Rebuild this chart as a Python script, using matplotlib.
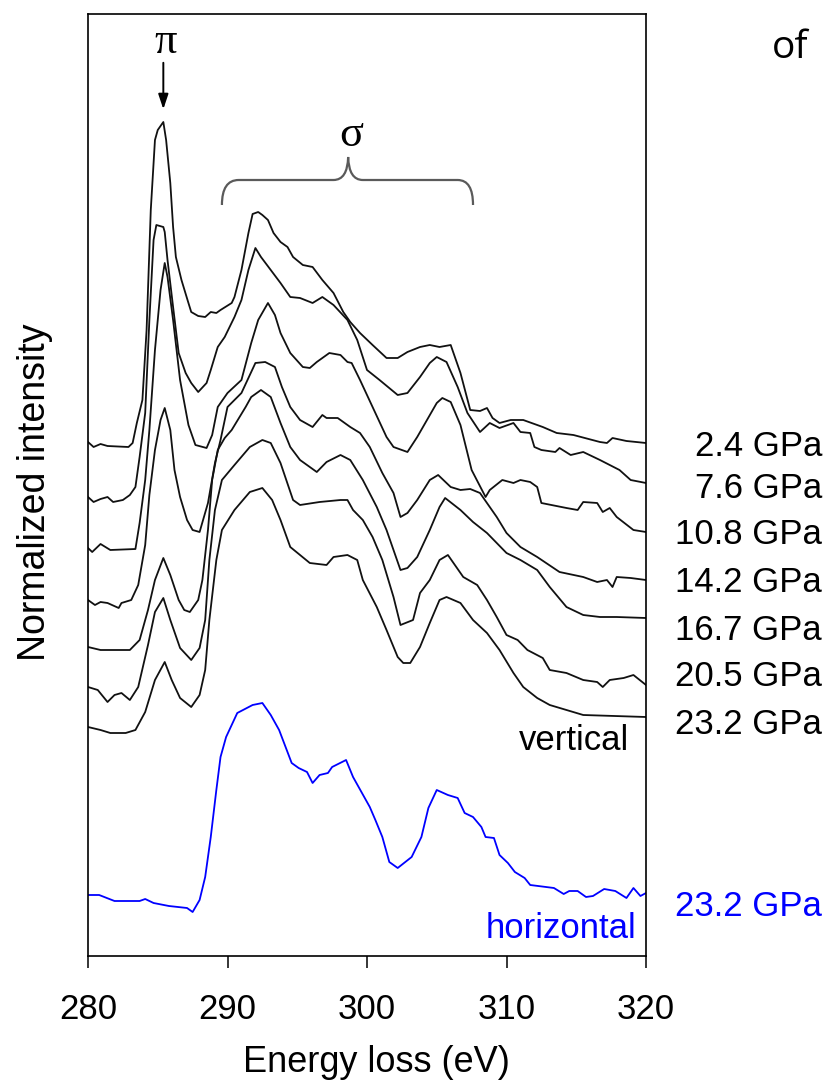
import matplotlib
matplotlib.use("Agg")
import matplotlib.pyplot as plt
from matplotlib.path import Path
from matplotlib.patches import PathPatch

plt.rcParams['font.family'] = ['Liberation Sans', 'DejaVu Sans']

# ---------------- data (energy loss in eV, intensity in a.u., offset as plotted) ----------------
pressures = ["2.4 GPa", "7.6 GPa", "10.8 GPa", "14.2 GPa", "16.7 GPa", "20.5 GPa", "23.2 GPa"]

e_24 = [280.0, 280.4, 280.9, 281.4, 282.9, 283.2, 283.5, 283.9, 284.2, 284.5, 284.8, 285.0, 285.4, 285.6,
        285.9, 286.1, 286.3, 286.7, 287.2, 287.4, 287.9, 288.4, 288.8, 289.2, 289.5, 290.3, 290.5, 291.0,
        291.5, 291.8, 292.2, 292.5, 292.9, 293.3, 293.8, 294.3, 294.7, 295.4, 296.1, 296.8, 297.6, 298.3,
        298.8, 299.5, 300.4, 301.4, 302.2, 302.9, 303.8, 304.5, 305.2, 306.0, 306.7, 307.4, 308.1, 308.6,
        309.0, 309.5, 310.3, 311.2, 312.6, 313.6, 314.8, 316.7, 317.2, 317.6, 318.6, 320.0]
i_24 = [5.14, 5.09, 5.12, 5.10, 5.09, 5.13, 5.33, 5.56, 6.26, 7.46, 8.16, 8.26, 8.34, 8.16,
        7.73, 7.29, 6.99, 6.76, 6.53, 6.44, 6.40, 6.39, 6.44, 6.43, 6.46, 6.53, 6.59, 6.86,
        7.23, 7.42, 7.44, 7.41, 7.36, 7.23, 7.14, 7.09, 6.99, 6.91, 6.89, 6.76, 6.63, 6.44,
        6.34, 6.23, 6.11, 5.98, 5.98, 6.04, 6.09, 6.11, 6.09, 6.11, 5.83, 5.46, 5.45, 5.48,
        5.38, 5.33, 5.36, 5.36, 5.29, 5.23, 5.21, 5.14, 5.13, 5.18, 5.15, 5.13]

e_76 = [280.0, 280.4, 280.9, 281.4, 281.8, 282.5, 283.0, 283.4, 283.7, 284.1, 284.4, 284.7, 284.9, 285.4,
        285.5, 285.7, 286.1, 286.5, 287.0, 287.4, 287.9, 288.5, 288.8, 289.3, 289.8, 290.5, 291.0, 291.5,
        292.0, 292.4, 293.1, 293.8, 294.5, 295.2, 296.1, 296.8, 297.6, 298.6, 299.3, 300.0, 300.9, 302.2,
        302.9, 303.8, 304.5, 305.0, 305.7, 306.5, 307.2, 308.1, 308.8, 309.5, 310.5, 311.0, 311.7, 312.0,
        312.5, 313.5, 313.8, 314.6, 315.5, 316.7, 318.1, 318.9, 320.0]
i_76 = [4.59, 4.54, 4.57, 4.59, 4.54, 4.56, 4.61, 4.69, 4.99, 5.43, 6.36, 7.16, 7.31, 7.29,
        7.24, 6.96, 6.49, 6.03, 5.83, 5.73, 5.64, 5.73, 5.86, 6.09, 6.19, 6.39, 6.56, 6.86,
        7.08, 6.99, 6.86, 6.73, 6.59, 6.58, 6.53, 6.59, 6.51, 6.36, 6.16, 5.86, 5.76, 5.61,
        5.63, 5.79, 5.93, 5.99, 5.94, 5.69, 5.43, 5.24, 5.33, 5.28, 5.33, 5.24, 5.23, 5.09,
        5.06, 5.04, 5.08, 5.01, 5.04, 4.96, 4.86, 4.76, 4.73]

e_108 = [280.0, 280.3, 280.9, 281.6, 283.4, 283.7, 284.1, 284.4, 284.8, 285.2, 285.5, 285.7, 286.1, 286.6,
         287.2, 287.7, 288.5, 288.9, 289.3, 290.0, 291.0, 291.7, 292.2, 292.9, 293.4, 293.8, 294.5, 295.4,
         295.9, 296.4, 297.3, 298.1, 298.6, 298.9, 299.5, 300.4, 301.4, 301.9, 302.9, 303.6, 304.3, 305.0,
         305.4, 306.0, 306.7, 307.5, 308.5, 308.8, 309.7, 310.5, 311.0, 311.7, 312.2, 312.5, 314.3, 315.1,
         315.5, 316.5, 316.9, 317.4, 317.9, 319.1, 320.0]
i_108 = [4.08, 4.04, 4.12, 4.06, 4.07, 4.33, 4.76, 5.26, 6.06, 6.66, 6.93, 6.79, 6.36, 5.76,
         5.31, 5.11, 5.08, 5.21, 5.49, 5.63, 5.76, 6.13, 6.36, 6.53, 6.41, 6.23, 6.03, 5.89,
         5.88, 5.94, 6.03, 6.01, 5.94, 5.93, 5.76, 5.49, 5.19, 5.09, 5.04, 5.19, 5.36, 5.53,
         5.58, 5.54, 5.31, 4.86, 4.59, 4.66, 4.76, 4.73, 4.76, 4.74, 4.69, 4.53, 4.48, 4.46,
         4.54, 4.53, 4.44, 4.48, 4.39, 4.26, 4.24]

e_142 = [280.0, 280.5, 280.9, 281.4, 282.2, 282.4, 283.1, 283.6, 284.1, 284.4, 284.8, 285.2, 285.5, 285.9,
         286.2, 286.6, 287.1, 287.5, 288.0, 288.6, 289.1, 289.5, 290.0, 291.0, 292.0, 292.7, 293.4, 293.9,
         294.5, 295.2, 296.1, 296.8, 297.1, 297.9, 298.8, 299.5, 300.2, 301.1, 301.9, 302.4, 302.9, 303.6,
         304.5, 305.1, 306.0, 306.7, 307.4, 308.1, 308.6, 309.3, 310.0, 311.0, 312.2, 313.8, 315.5, 316.5,
         317.2, 317.6, 317.9, 318.9, 320.0]
i_142 = [3.56, 3.51, 3.54, 3.53, 3.48, 3.53, 3.56, 3.71, 4.11, 4.61, 5.06, 5.36, 5.48, 5.26,
         4.86, 4.59, 4.36, 4.26, 4.24, 4.53, 4.93, 5.16, 5.49, 5.63, 5.93, 5.94, 5.89, 5.69,
         5.49, 5.36, 5.29, 5.41, 5.38, 5.38, 5.29, 5.23, 5.09, 4.83, 4.63, 4.39, 4.43, 4.56,
         4.76, 4.81, 4.69, 4.66, 4.67, 4.63, 4.53, 4.39, 4.23, 4.09, 3.99, 3.84, 3.79, 3.74,
         3.76, 3.69, 3.79, 3.78, 3.76]

e_167 = [280.0, 280.9, 283.0, 283.7, 284.3, 284.8, 285.4, 285.9, 286.5, 286.9, 287.3, 287.9, 288.2, 288.6,
         288.9, 289.3, 289.8, 290.3, 291.3, 291.7, 292.4, 293.1, 293.8, 294.5, 295.2, 296.4, 297.1, 298.1,
         298.8, 299.7, 300.7, 301.4, 302.4, 302.9, 303.6, 304.5, 305.2, 305.6, 306.7, 307.6, 308.6, 309.3,
         310.0, 311.0, 312.2, 313.1, 314.3, 315.5, 316.7, 317.9, 320.0]
i_167 = [3.09, 3.06, 3.06, 3.16, 3.46, 3.76, 3.98, 3.81, 3.56, 3.46, 3.44, 3.56, 3.76, 4.26,
         4.76, 5.06, 5.18, 5.26, 5.49, 5.59, 5.66, 5.59, 5.33, 5.09, 4.96, 4.84, 4.94, 5.01,
         4.96, 4.76, 4.49, 4.26, 3.86, 3.88, 3.99, 4.26, 4.49, 4.58, 4.46, 4.34, 4.23, 4.13,
         4.03, 3.96, 3.86, 3.69, 3.49, 3.41, 3.39, 3.39, 3.38]

e_205 = [280.0, 280.7, 281.4, 281.9, 282.4, 283.0, 283.6, 284.3, 284.8, 285.4, 285.9, 286.6, 287.4, 288.0,
         288.4, 288.7, 289.1, 289.6, 290.5, 291.6, 292.5, 293.1, 293.8, 294.7, 295.2, 296.6, 298.1, 298.6,
         299.0, 299.7, 300.4, 301.1, 301.9, 302.4, 303.3, 303.8, 304.5, 305.2, 305.8, 306.9, 307.9, 308.6,
         309.3, 310.0, 310.8, 311.5, 312.6, 313.1, 314.3, 315.5, 316.5, 316.9, 317.4, 318.4, 319.1, 320.0]
i_205 = [2.69, 2.66, 2.54, 2.61, 2.63, 2.56, 2.69, 3.11, 3.44, 3.58, 3.36, 3.08, 2.96, 3.08,
         3.36, 3.96, 4.46, 4.76, 4.91, 5.09, 5.16, 5.13, 4.93, 4.56, 4.51, 4.54, 4.56, 4.56,
         4.46, 4.36, 4.19, 3.96, 3.59, 3.31, 3.36, 3.63, 3.76, 3.96, 4.01, 3.79, 3.71, 3.56,
         3.39, 3.21, 3.16, 3.06, 2.98, 2.86, 2.83, 2.76, 2.74, 2.69, 2.76, 2.78, 2.81, 2.71]

e_232v = [280.0, 280.9, 281.6, 282.7, 283.4, 284.1, 284.8, 285.5, 286.0, 286.6, 287.4, 288.0, 288.4, 288.7,
          289.2, 289.6, 290.5, 291.6, 292.5, 293.2, 293.8, 294.5, 295.9, 297.1, 297.6, 298.6, 299.3, 299.7,
          300.7, 301.4, 302.2, 302.6, 303.1, 303.8, 304.5, 305.2, 305.7, 306.7, 307.6, 308.6, 309.5, 310.5,
          311.2, 312.2, 313.1, 314.3, 315.5, 320.0]
i_232v = [2.29, 2.26, 2.23, 2.23, 2.26, 2.44, 2.76, 2.94, 2.76, 2.58, 2.49, 2.61, 2.86, 3.36,
          3.96, 4.26, 4.46, 4.64, 4.68, 4.56, 4.36, 4.09, 3.93, 3.91, 3.99, 4.01, 3.96, 3.76,
          3.49, 3.26, 2.99, 2.93, 2.93, 3.09, 3.33, 3.56, 3.59, 3.53, 3.36, 3.23, 3.06, 2.83,
          2.69, 2.58, 2.51, 2.46, 2.41, 2.39]

e_232h = [280.0, 280.8, 281.9, 283.7, 284.1, 284.7, 285.8, 287.1, 287.5, 288.0, 288.4, 288.8, 289.2, 289.5,
          289.9, 290.7, 291.8, 292.5, 293.1, 293.7, 294.6, 295.1, 295.7, 296.1, 296.6, 297.2, 297.5, 298.5,
          299.0, 299.6, 300.2, 300.6, 301.1, 301.6, 302.2, 303.2, 303.9, 304.4, 305.0, 305.8, 306.5, 307.0,
          307.6, 308.2, 308.5, 309.1, 309.5, 310.1, 310.6, 311.3, 311.7, 313.4, 314.1, 314.5, 315.1, 315.7,
          316.2, 317.0, 317.8, 318.6, 319.1, 319.6, 320.0]
i_232h = [0.61, 0.61, 0.55, 0.55, 0.57, 0.53, 0.50, 0.48, 0.44, 0.56, 0.79, 1.19, 1.66, 1.99,
          2.19, 2.43, 2.51, 2.53, 2.41, 2.26, 1.93, 1.88, 1.84, 1.73, 1.81, 1.83, 1.89, 1.96,
          1.79, 1.64, 1.49, 1.36, 1.19, 0.94, 0.88, 0.99, 1.19, 1.48, 1.66, 1.61, 1.58, 1.43,
          1.39, 1.29, 1.19, 1.18, 1.01, 0.93, 0.84, 0.78, 0.71, 0.68, 0.62, 0.65, 0.65, 0.59,
          0.60, 0.67, 0.65, 0.58, 0.68, 0.60, 0.63]

vertical_curves = [(e_24, i_24), (e_76, i_76), (e_108, i_108), (e_142, i_142),
                   (e_167, i_167), (e_205, i_205), (e_232v, i_232v)]

x_ticks = [280, 290, 300, 310, 320]

# ---------------- figure ----------------
W, H = 830, 1087
fig = plt.figure(figsize=(W / 100, H / 100), dpi=100)
ax = fig.add_axes([88 / W, 1 - 956 / H, (646 - 88) / W, (956 - 14) / H])

black = '#111111'
blue = '#0000ff'
for e, i in vertical_curves:
    ax.plot(e, i, color=black, lw=1.3)
ax.plot(e_232h, i_232h, color=blue, lw=1.3)

ax.set_xlim(280, 320)
ax.set_ylim(0, 9.42)
ax.set_xticks(x_ticks)
ax.set_xticklabels([str(t) for t in x_ticks], fontsize=25)
ax.set_yticks([])
ax.tick_params(axis='x', direction='out', length=8.5, width=1.1, pad=18, colors='black')
for s in ax.spines.values():
    s.set_linewidth(1.2)
    s.set_color('black')

# axis labels
fig.text(376 / W, 1 - 1063 / H, "Energy loss (eV)", fontsize=26, ha='center', va='center')
fig.text(35 / W, 1 - 492 / H, "Normalized intensity", fontsize=27, rotation=90,
         ha='center', va='center')

# pressure labels
label_y = [447, 488, 535, 583, 630, 677, 725]
for lab, yy in zip(pressures, label_y):
    fig.text(822 / W, 1 - yy / H, lab, fontsize=25, ha='right', va='center', color='black')
fig.text(822 / W, 1 - 906 / H, "23.2 GPa", fontsize=25, ha='right', va='center', color=blue)

ax.text(318.8, 2.16, "vertical", fontsize=25, ha='right', va='center', color='black')
ax.text(319.3, 0.28, "horizontal", fontsize=25, ha='right', va='center', color=blue)

# pi arrow and label
ax.annotate("", xy=(285.4, 8.44), xytext=(285.4, 8.96),
            arrowprops=dict(arrowstyle='-|>,head_length=0.9,head_width=0.3', color='black', lw=1.4))
ax.text(285.6, 9.14, "π", fontsize=32, ha='center', va='center', family=['Liberation Serif', 'DejaVu Serif'])
ax.text(298.9, 8.21, "σ", fontsize=32, ha='center', va='center', family=['Liberation Serif', 'DejaVu Serif'])

# brace over sigma region
verts = [(289.6, 7.51), (289.6, 7.76), (290.8, 7.76), (297.6, 7.76), (298.6, 7.76), (298.65, 7.99),
         (298.7, 7.76), (299.7, 7.76), (306.5, 7.76), (307.6, 7.76), (307.6, 7.51)]
codes = [Path.MOVETO, Path.CURVE3, Path.CURVE3, Path.LINETO, Path.CURVE3, Path.CURVE3,
         Path.CURVE3, Path.CURVE3, Path.LINETO, Path.CURVE3, Path.CURVE3]
ax.add_patch(PathPatch(Path(verts, codes), facecolor='none', edgecolor='#5a5a5a', lw=1.6))

fig.text(790 / W, 1 - 48 / H, "of", fontsize=28, ha='center', va='center', family=['Open Sans', 'DejaVu Sans'])

fig.savefig("out.png", dpi=100)
